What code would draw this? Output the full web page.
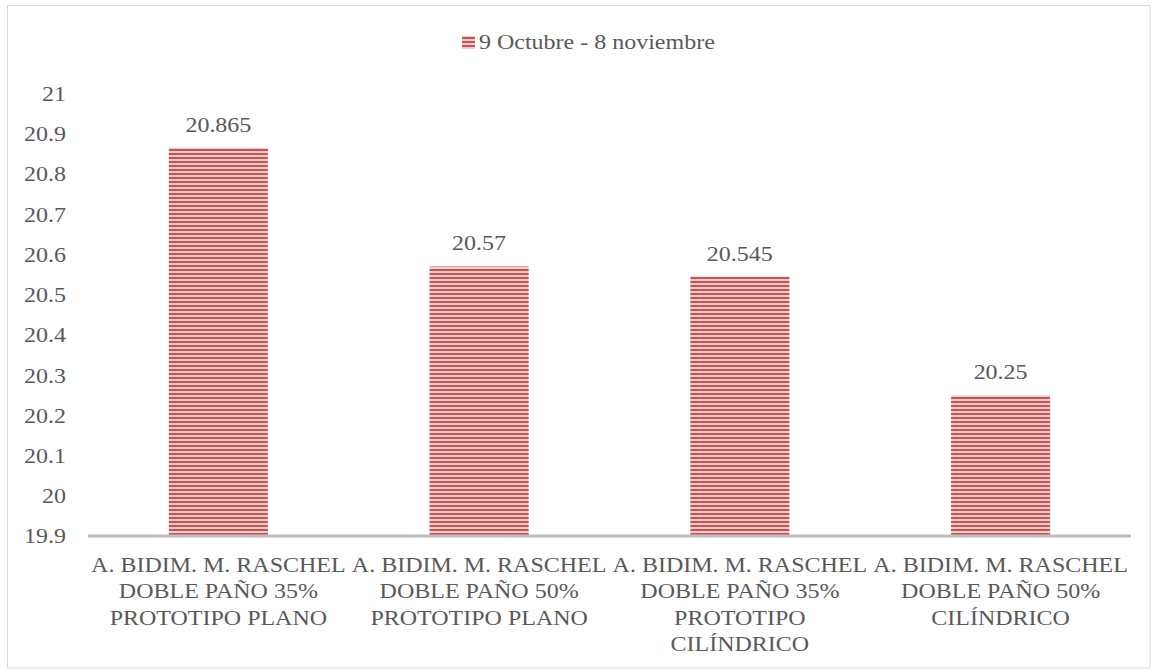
<!DOCTYPE html>
<html>
<head>
<meta charset="utf-8">
<script src="https://cdn.jsdelivr.net/npm/d3@7"></script>
<style>
  html, body { margin: 0; padding: 0; background: #ffffff; }
  svg { display: block; }
  text { font-family: "Liberation Serif", "Times New Roman", serif; fill: #595959; }
</style>
</head>
<body>
<div id="chart"></div>
<script>
// data
const categories = [
  ["A. BIDIM. M. RASCHEL", "DOBLE PAÑO 35%", "PROTOTIPO PLANO"],
  ["A. BIDIM. M. RASCHEL", "DOBLE PAÑO 50%", "PROTOTIPO PLANO"],
  ["A. BIDIM. M. RASCHEL", "DOBLE PAÑO 35%", "PROTOTIPO", "CILÍNDRICO"],
  ["A. BIDIM. M. RASCHEL", "DOBLE PAÑO 50%", "CILÍNDRICO"],
];
const values = [20.865, 20.57, 20.545, 20.25];
const valueLabels = ["20.865", "20.57", "20.545", "20.25"];
const yTicks = [19.9, 20, 20.1, 20.2, 20.3, 20.4, 20.5, 20.6, 20.7, 20.8, 20.9, 21];
const yTickLabels = ["19.9", "20", "20.1", "20.2", "20.3", "20.4", "20.5", "20.6", "20.7", "20.8", "20.9", "21"];
const seriesName = "9 Octubre - 8 noviembre";

// layout (screen pixels), the picture is stretched horizontally
const width = 1153;
const height = 672;
const sx = 1.2;
const vbW = width / sx;
const px = v => v / sx;

const plot = { left: 88, right: 1131, top: 93.5, bottom: 536 };
const barColour = "#c55451";
const barLight = "#f2cdcc";

const svg = d3
  .select("#chart")
  .append("svg")
  .attr("width", width)
  .attr("height", height)
  .attr("viewBox", `0 0 ${vbW} ${height}`)
  .attr("preserveAspectRatio", "none");

const defs = svg.append("defs");
const pattern = defs
  .append("pattern")
  .attr("id", "stripes")
  .attr("patternUnits", "userSpaceOnUse")
  .attr("width", 10)
  .attr("height", 4);
pattern.append("rect").attr("width", 10).attr("height", 4).attr("fill", barLight);
pattern.append("rect").attr("y", 1).attr("width", 10).attr("height", 2).attr("fill", barColour);

// frame
svg
  .append("rect")
  .attr("x", px(7.5))
  .attr("y", 5.5)
  .attr("width", px(1150 - 7.5))
  .attr("height", 668 - 5.5)
  .attr("fill", "none")
  .attr("stroke", "#d9d9d9")
  .attr("stroke-width", 1)
  .attr("vector-effect", "non-scaling-stroke");

const x = d3
  .scaleBand()
  .domain(d3.range(categories.length))
  .range([px(plot.left), px(plot.right)])
  .paddingInner(0.62)
  .paddingOuter(0.31);

const y = d3
  .scaleLinear()
  .domain([19.9, 21])
  .range([plot.bottom, plot.top]);

// y tick labels
svg
  .append("g")
  .selectAll("text")
  .data(yTicks)
  .enter()
  .append("text")
  .attr("x", px(66))
  .attr("y", d => y(d) + 7.5)
  .attr("text-anchor", "end")
  .attr("font-size", 20)
  .text((d, i) => yTickLabels[i]);

// bars
svg
  .append("g")
  .selectAll("rect")
  .data(values)
  .enter()
  .append("rect")
  .attr("x", (d, i) => x(i))
  .attr("y", d => y(d))
  .attr("width", x.bandwidth())
  .attr("height", d => y(19.9) - y(d))
  .attr("fill", "url(#stripes)");

// value labels
svg
  .append("g")
  .selectAll("text")
  .data(values)
  .enter()
  .append("text")
  .attr("x", (d, i) => x(i) + x.bandwidth() / 2)
  .attr("y", d => y(d) - 16)
  .attr("text-anchor", "middle")
  .attr("font-size", 20)
  .text((d, i) => valueLabels[i]);

// category axis
svg
  .append("line")
  .attr("x1", px(plot.left))
  .attr("x2", px(plot.right))
  .attr("y1", plot.bottom)
  .attr("y2", plot.bottom)
  .attr("stroke", "#bfbfbf")
  .attr("stroke-width", 3);

const catLabels = svg
  .append("g")
  .selectAll("text")
  .data(categories)
  .enter()
  .append("text")
  .attr("text-anchor", "middle")
  .attr("font-size", 20);

catLabels
  .selectAll("tspan")
  .data((d, i) => d.map(line => ({ line, i })))
  .enter()
  .append("tspan")
  .attr("x", d => x(d.i) + x.bandwidth() / 2)
  .attr("y", (d, j) => 572 + j * 26.5)
  .text(d => d.line);

// legend
const legend = svg.append("g");
legend
  .append("rect")
  .attr("x", px(462))
  .attr("y", 36)
  .attr("width", px(13))
  .attr("height", 13)
  .attr("fill", "url(#stripes)");
legend
  .append("text")
  .attr("x", px(479))
  .attr("y", 49)
  .attr("font-size", 20)
  .text(seriesName);
</script>
</body>
</html>
